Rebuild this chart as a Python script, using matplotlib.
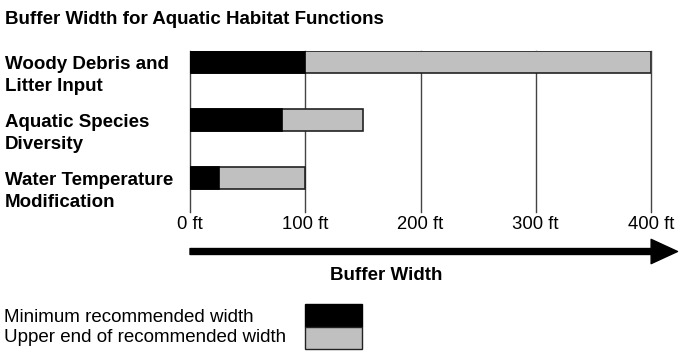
import matplotlib.pyplot as plt
from matplotlib.patches import Rectangle
from matplotlib.transforms import blended_transform_factory

# data
categories = ['Woody Debris and\nLitter Input',
              'Aquatic Species\nDiversity',
              'Water Temperature\nModification']
minimum_width = [100, 80, 25]
upper_width = [400, 150, 100]
ticks = [0, 100, 200, 300, 400]
tick_labels = ['0 ft', '100 ft', '200 ft', '300 ft', '400 ft']

plt.rcParams['font.family'] = ['Liberation Sans', 'DejaVu Sans']

W, H = 680, 352
fig = plt.figure(figsize=(W / 100, H / 100), dpi=100)

# axes spans pixel x 190..651, y 51..212
ax = fig.add_axes([190 / W, (H - 212) / H, 461 / W, 161 / H])

pos = list(range(len(categories)))
bar_h = 22 / 58
grey = '#c0c0c0'

ax.barh(pos, upper_width, height=bar_h, color=grey, edgecolor='#222222',
        linewidth=1.2, zorder=2)
ax.barh(pos, minimum_width, height=bar_h, color='black', edgecolor='black',
        linewidth=1.2, zorder=3)

ax.set_xlim(0, 400)
ax.set_ylim(150 / 58, -11 / 58)
ax.set_xticks(ticks)
ax.set_xticklabels(tick_labels, fontsize=13.3)
ax.set_yticks([])
ax.tick_params(axis='x', length=0, pad=3)
ax.grid(axis='x', color='#444444', linewidth=1, zorder=1)
for line in ax.get_xgridlines():
    line.set_clip_on(False)
for s in ax.spines.values():
    s.set_visible(False)

# category labels, left aligned at the figure edge
trans = blended_transform_factory(fig.transFigure, ax.transData)
for p, name in zip(pos, categories):
    ax.text(5 / W, p - bar_h / 2 + 0.08, name, transform=trans, ha='left',
            va='top', fontsize=13.5, fontweight='bold', linespacing=1.42)

fig.text(5 / W, 1 - 19 / H, 'Buffer Width for Aquatic Habitat Functions',
         ha='left', va='center', fontsize=13.5, fontweight='bold')

# axis arrow
y_arrow = (251.5 - 62) / 58
ax.annotate('', xy=(423, y_arrow), xytext=(0, y_arrow),
             arrowprops=dict(facecolor='black', edgecolor='black', width=4.3,
                             headwidth=17.5, headlength=19, shrink=0),
             annotation_clip=False)
fig.text(386 / W, 1 - 275 / H, 'Buffer Width', ha='center', va='center',
         fontsize=13.5, fontweight='bold')

# legend
fig.text(4 / W, 1 - 317 / H, 'Minimum recommended width', ha='left',
         va='center', fontsize=13.5)
fig.text(4 / W, 1 - 337 / H, 'Upper end of recommended width', ha='left',
         va='center', fontsize=13.5)
fig.patches.append(Rectangle((305 / W, 1 - 327 / H), 57 / W, 23 / H,
                             transform=fig.transFigure, facecolor='black',
                             edgecolor='black', linewidth=1))
fig.patches.append(Rectangle((305 / W, 1 - 349 / H), 57 / W, 22 / H,
                             transform=fig.transFigure, facecolor=grey,
                             edgecolor='#222222', linewidth=1))

plt.savefig('out.png', dpi=100)
